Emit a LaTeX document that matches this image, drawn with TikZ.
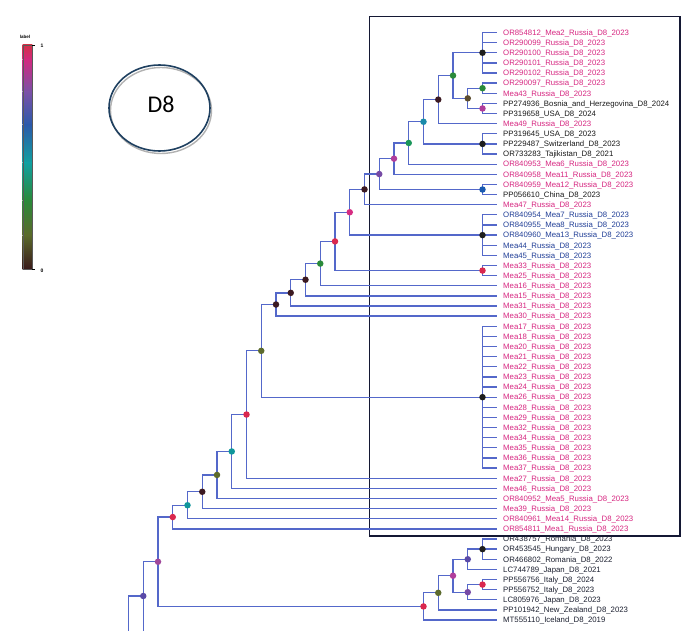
\documentclass[tikz,border=0pt]{standalone}
\usepackage{fontspec}
\setmainfont{Liberation Sans}
\newfontfamily\carlito{Carlito}
\usetikzlibrary{calc}
\definecolor{branch}{RGB}{84,104,202}
\definecolor{labpink}{RGB}{214,38,128}
\definecolor{labblue}{RGB}{32,62,150}
\definecolor{labblack}{RGB}{25,25,25}
\definecolor{labnavy}{RGB}{28,32,48}
\definecolor{boxc}{RGB}{20,24,52}
\definecolor{ellc}{RGB}{31,64,96}
\definecolor{cdark}{RGB}{60,26,34}
\definecolor{cblack}{RGB}{30,30,30}
\definecolor{cred}{RGB}{218,40,78}
\definecolor{cpink}{RGB}{214,44,130}
\definecolor{cmag}{RGB}{176,62,156}
\definecolor{cmagp}{RGB}{160,72,155}
\definecolor{cpurple}{RGB}{118,74,165}
\definecolor{cindigo}{RGB}{90,74,168}
\definecolor{cblue}{RGB}{26,90,176}
\definecolor{cteal}{RGB}{16,150,155}
\definecolor{ctealb}{RGB}{26,138,170}
\definecolor{cgreen}{RGB}{42,138,58}
\definecolor{cgreen2}{RGB}{26,150,90}
\definecolor{colive}{RGB}{92,106,46}
\definecolor{cbrown}{RGB}{92,76,46}
\definecolor{g0}{RGB}{212,48,72}
\definecolor{g1}{RGB}{208,42,128}
\definecolor{g2}{RGB}{122,80,168}
\definecolor{g3}{RGB}{42,90,170}
\definecolor{g4}{RGB}{16,160,160}
\definecolor{g5}{RGB}{42,138,58}
\definecolor{g6}{RGB}{90,106,42}
\definecolor{g7}{RGB}{58,26,26}
\tikzset{
  br/.style={draw=branch, line width=1.3pt},
  leaf/.style={anchor=base west, inner sep=0pt, font=\fontsize{7.8}{8}\selectfont},
  dot/.style={circle, fill=#1, inner sep=0pt, minimum size=6.5pt},
  tiny/.style={inner sep=0pt, font=\fontsize{5}{5}\selectfont\bfseries}
}
\begin{document}
\begin{tikzpicture}[x=1pt,y=-1pt]
\path[use as bounding box] (0,0) rectangle (690,631);
\clip (0,0) rectangle (690,631);
% colour bar
\foreach \ya/\yb/\ca/\cb in {45/60/g0/g1,60/92/g1/g2,92/125/g2/g3,125/163/g3/g4,163/200/g4/g5,200/235/g5/g6,235/269/g6/g7}
  \shade[top color=\ca, bottom color=\cb] (22.7,\ya) rectangle (32.3,\yb);
\draw[gray!70!black, line width=0.3pt] (22.7,45) rectangle (32.3,269);
\draw[black, line width=0.4pt] (32.3,45) -- (35,45) (32.3,269) -- (35,269);
\node[tiny, font=\fontsize{4.5}{5}\selectfont\bfseries] (lab) at (25,37) {label};
\node[tiny] (one) at (42,46) {1};
\node[tiny] (zero) at (42,271) {0};
% D8 ellipse
\draw[gray!60, line width=1.4pt] (161,110.5) ellipse [x radius=50.5pt, y radius=43pt];
\draw[ellc, line width=1.6pt] (159.5,108) ellipse [x radius=50.5pt, y radius=43pt];
\node[inner sep=0pt, font=\carlito\fontsize{24}{24}\selectfont] (d8) at (161,104) {D8};
% frame
\draw[boxc, line width=1.6pt] (369.3,16.7) rectangle (680,535.7);
% leaves
\foreach \i/\c/\t in {
1/labpink/OR854812\_Mea2\_Russia\_D8\_2023,
2/labpink/OR290099\_Russia\_D8\_2023,
3/labpink/OR290100\_Russia\_D8\_2023,
4/labpink/OR290101\_Russia\_D8\_2023,
5/labpink/OR290102\_Russia\_D8\_2023,
6/labpink/OR290097\_Russia\_D8\_2023,
7/labpink/Mea43\_Russia\_D8\_2023,
8/labblack/PP274936\_Bosnia\_and\_Herzegovina\_D8\_2024,
9/labblack/PP319658\_USA\_D8\_2024,
10/labpink/Mea49\_Russia\_D8\_2023,
11/labblack/PP319645\_USA\_D8\_2023,
12/labblack/PP229487\_Switzerland\_D8\_2023,
13/labblack/OR733283\_Tajikistan\_D8\_2021,
14/labpink/OR840953\_Mea6\_Russia\_D8\_2023,
15/labpink/OR840958\_Mea11\_Russia\_D8\_2023,
16/labpink/OR840959\_Mea12\_Russia\_D8\_2023,
17/labblack/PP056610\_China\_D8\_2023,
18/labpink/Mea47\_Russia\_D8\_2023,
19/labblue/OR840954\_Mea7\_Russia\_D8\_2023,
20/labblue/OR840955\_Mea8\_Russia\_D8\_2023,
21/labblue/OR840960\_Mea13\_Russia\_D8\_2023,
22/labblue/Mea44\_Russia\_D8\_2023,
23/labblue/Mea45\_Russia\_D8\_2023,
24/labpink/Mea33\_Russia\_D8\_2023,
25/labpink/Mea25\_Russia\_D8\_2023,
26/labpink/Mea16\_Russia\_D8\_2023,
27/labpink/Mea15\_Russia\_D8\_2023,
28/labpink/Mea31\_Russia\_D8\_2023,
29/labpink/Mea30\_Russia\_D8\_2023,
30/labpink/Mea17\_Russia\_D8\_2023,
31/labpink/Mea18\_Russia\_D8\_2023,
32/labpink/Mea20\_Russia\_D8\_2023,
33/labpink/Mea21\_Russia\_D8\_2023,
34/labpink/Mea22\_Russia\_D8\_2023,
35/labpink/Mea23\_Russia\_D8\_2023,
36/labpink/Mea24\_Russia\_D8\_2023,
37/labpink/Mea26\_Russia\_D8\_2023,
38/labpink/Mea28\_Russia\_D8\_2023,
39/labpink/Mea29\_Russia\_D8\_2023,
40/labpink/Mea32\_Russia\_D8\_2023,
41/labpink/Mea34\_Russia\_D8\_2023,
42/labpink/Mea35\_Russia\_D8\_2023,
43/labpink/Mea36\_Russia\_D8\_2023,
44/labpink/Mea37\_Russia\_D8\_2023,
45/labpink/Mea27\_Russia\_D8\_2023,
46/labpink/Mea46\_Russia\_D8\_2023,
47/labpink/OR840952\_Mea5\_Russia\_D8\_2023,
48/labpink/Mea39\_Russia\_D8\_2023,
49/labpink/OR840961\_Mea14\_Russia\_D8\_2023,
50/labpink/OR854811\_Mea1\_Russia\_D8\_2023,
51/labnavy/OR438757\_Romania\_D8\_2023,
52/labnavy/OR453545\_Hungary\_D8\_2023,
53/labnavy/OR466802\_Romania\_D8\_2022,
54/labnavy/LC744789\_Japan\_D8\_2021,
55/labnavy/PP556756\_Italy\_D8\_2024,
56/labnavy/PP556752\_Italy\_D8\_2023,
57/labnavy/LC805976\_Japan\_D8\_2023,
58/labnavy/PP101942\_New\_Zealand\_D8\_2023,
59/labnavy/MT555110\_Iceland\_D8\_2019}{
  \pgfmathsetmacro\yy{32.5+(\i-1)*10.13}
  \coordinate (e\i) at (497.25,\yy);
  \node[leaf, text=\c] (t\i) at (503,\yy+2.8) {\t};
}
% internal nodes
\coordinate (P1) at (482.5,52.76);
\coordinate (P2) at (482.5,88.22);
\coordinate (P3) at (482.5,108.48);
\coordinate (N23) at (467.75,98.35);
\coordinate (N22) at (453,75.55);
\coordinate (N21) at (438.25,99.61);
\coordinate (P4) at (482.5,143.93);
\coordinate (N20) at (423.5,121.77);
\coordinate (N19) at (408.75,142.98);
\coordinate (N18) at (394,158.65);
\coordinate (P5) at (482.5,189.52);
\coordinate (N17) at (379.25,174.08);
\coordinate (N16) at (364.5,189.40);
\coordinate (P6) at (482.5,235.10);
\coordinate (N15) at (349.75,212.25);
\coordinate (P7) at (482.5,270.56);
\coordinate (N14) at (335,241.40);
\coordinate (N13) at (320.25,263.58);
\coordinate (N12) at (305.5,279.73);
\coordinate (N11) at (290.75,292.87);
\coordinate (N10) at (276,304.51);
\coordinate (P8) at (482.5,397.18);
\coordinate (N9) at (261.25,350.84);
\coordinate (N8) at (246.5,414.53);
\coordinate (N7) at (231.75,451.44);
\coordinate (N6) at (217,474.96);
\coordinate (N5) at (202.25,491.79);
\coordinate (N4) at (187.5,505.26);
\coordinate (N3) at (172.75,517.07);
\coordinate (B1) at (482.5,549.13);
\coordinate (B2) at (467.75,559.26);
\coordinate (B3) at (482.5,584.59);
\coordinate (B4) at (467.75,592.18);
\coordinate (B5) at (453,575.72);
\coordinate (B6) at (438.25,592.82);
\coordinate (B7) at (423.5,606.43);
\coordinate (N2) at (158,561.75);
\coordinate (N1) at (143.25,596);
\coordinate (N1low) at (158,640);
\coordinate (root) at (128.5,660);
% branches
\foreach \p/\q in {P1/e1,P1/e2,P1/e3,P1/e4,P1/e5,P2/e6,P2/e7,P3/e8,P3/e9,
  N23/P2,N23/P3,N22/P1,N22/N23,N21/N22,N21/e10,P4/e11,P4/e12,P4/e13,
  N20/N21,N20/P4,N19/N20,N19/e14,N18/N19,N18/e15,P5/e16,P5/e17,
  N17/N18,N17/P5,N16/N17,N16/e18,P6/e19,P6/e20,P6/e21,P6/e22,P6/e23,
  N15/N16,N15/P6,P7/e24,P7/e25,N14/N15,N14/P7,N13/N14,N13/e26,
  N12/N13,N12/e27,N11/N12,N11/e28,N10/N11,N10/e29,
  P8/e30,P8/e31,P8/e32,P8/e33,P8/e34,P8/e35,P8/e36,P8/e37,P8/e38,P8/e39,
  P8/e40,P8/e41,P8/e42,P8/e43,P8/e44,
  N9/N10,N9/P8,N8/N9,N8/e45,N7/N8,N7/e46,N6/N7,N6/e47,N5/N6,N5/e48,
  N4/N5,N4/e49,N3/N4,N3/e50,
  B1/e51,B1/e52,B1/e53,B2/B1,B2/e54,B3/e55,B3/e56,B4/B3,B4/e57,
  B5/B2,B5/B4,B6/B5,B6/e58,B7/B6,B7/e59,
  N2/N3,N2/B7,N1/N2,N1/N1low,root/N1}
  \draw[br] (\p) |- (\q);
% node dots
\foreach \n/\col in {N1/cindigo,N2/cmagp,N3/cred,N4/cteal,N5/cdark,N6/colive,
  N7/cteal,N8/cred,N9/colive,N10/cdark,N11/cdark,N12/cdark,N13/cgreen,
  N14/cred,N15/cpink,N16/cdark,N17/cpurple,N18/cmag,N19/cgreen2,N20/ctealb,
  N21/cdark,N22/cgreen,N23/cbrown,P1/cblack,P2/cgreen,P3/cmag,P4/cblack,
  P5/cblue,P6/cblack,P7/cred,P8/cblack,B1/cblack,B2/cindigo,B3/cred,
  B4/cpurple,B5/cmag,B6/colive,B7/cred}
  \node[dot=\col] (d\n) at (\n) {};
\end{tikzpicture}
\end{document}
